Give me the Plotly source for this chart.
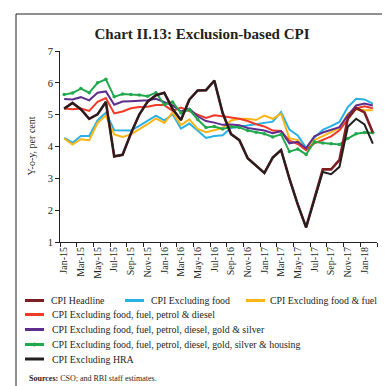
import plotly.graph_objects as go

months = ["Jan-15","Feb-15","Mar-15","Apr-15","May-15","Jun-15","Jul-15","Aug-15","Sep-15","Oct-15","Nov-15","Dec-15",
          "Jan-16","Feb-16","Mar-16","Apr-16","May-16","Jun-16","Jul-16","Aug-16","Sep-16","Oct-16","Nov-16","Dec-16",
          "Jan-17","Feb-17","Mar-17","Apr-17","May-17","Jun-17","Jul-17","Aug-17","Sep-17","Oct-17","Nov-17","Dec-17",
          "Jan-18","Feb-18"]

headline = [5.19,5.37,5.17,4.87,5.01,5.40,3.69,3.74,4.41,5.00,5.41,5.61,5.69,5.18,4.83,5.47,5.76,5.77,6.07,5.05,4.39,4.20,3.63,3.41,
            3.17,3.65,3.89,2.99,2.18,1.46,2.36,3.28,3.28,3.58,4.88,5.21,5.07,4.44]
ex_food = [4.27,4.12,4.33,4.33,4.82,5.06,4.51,4.51,4.50,4.65,4.80,4.97,4.82,5.01,4.56,4.72,4.50,4.27,4.33,4.35,4.58,4.62,4.65,4.70,
           4.73,4.78,5.08,4.53,4.35,3.96,4.28,4.52,4.64,4.77,5.24,5.50,5.48,5.35]
ex_food_fuel = [4.25,4.06,4.23,4.20,4.74,4.97,4.38,4.30,4.38,4.53,4.70,4.88,4.74,5.07,4.67,4.85,4.55,4.45,4.52,4.58,4.82,4.87,4.87,4.83,
                4.97,4.87,5.03,4.26,4.20,3.90,4.20,4.33,4.46,4.58,5.03,5.17,5.14,5.14]
ex_petrol_diesel = [5.19,5.17,5.19,5.12,5.40,5.52,5.04,5.10,5.20,5.24,5.25,5.30,5.30,5.12,5.22,5.10,5.00,4.90,4.98,4.95,4.91,4.87,4.80,4.70,
                    4.63,4.50,4.49,4.18,4.08,3.88,4.10,4.20,4.32,4.51,4.87,5.20,5.26,5.20]
ex_gold_silver = [5.49,5.48,5.55,5.45,5.69,5.73,5.31,5.41,5.42,5.44,5.45,5.50,5.40,5.29,5.10,5.19,4.95,4.80,4.75,4.68,4.69,4.67,4.58,4.54,
                  4.50,4.42,4.48,4.10,4.15,3.94,4.32,4.44,4.52,4.61,4.98,5.29,5.35,5.29]
ex_housing = [5.63,5.68,5.82,5.69,6.00,6.11,5.56,5.65,5.63,5.62,5.58,5.69,5.32,5.40,5.05,5.16,4.85,4.60,4.63,4.55,4.62,4.60,4.50,4.45,
              4.40,4.30,4.38,3.84,3.92,3.75,4.15,4.11,4.09,4.06,4.25,4.40,4.44,4.43]
ex_hra = [5.19,5.37,5.17,4.87,5.01,5.40,3.69,3.74,4.41,5.00,5.41,5.61,5.69,5.18,4.83,5.47,5.76,5.77,6.07,5.05,4.39,4.20,3.63,3.41,
          3.17,3.65,3.89,2.99,2.18,1.46,2.32,3.20,3.13,3.36,4.62,4.87,4.69,4.09]

names = ["CPI Headline", "CPI Excluding food", "CPI Excluding food & fuel",
         "CPI Excluding food, fuel, petrol & diesel",
         "CPI Excluding food, fuel, petrol, diesel, gold & silver",
         "CPI Excluding food, fuel, petrol, diesel, gold, silver & housing",
         "CPI Excluding HRA"]
colors = ["#7d1f22", "#27b1e6", "#fdb515", "#ee3a26", "#5d2e8e", "#21a84d", "#231f20"]
series = [headline, ex_food, ex_food_fuel, ex_petrol_diesel, ex_gold_silver, ex_housing, ex_hra]

FONT = "Liberation Serif"
W, H = 390, 386
L, R, T, B = 52, 369, 43, 234

def px(x):
    return (x - L) / (R - L)

def py(y):
    return (B - y) / (B - T)

fig = go.Figure()
draw_order = [1, 2, 3, 4, 5, 0, 6]
for i in draw_order:
    fig.add_trace(go.Scatter(
        x=months, y=series[i], mode="lines+markers" if i == 5 else "lines",
        line=dict(color=colors[i], width=2.6 if i == 0 else 2),
        marker=dict(size=3.5, color=colors[i]) if i == 5 else None,
        name=names[i], showlegend=False))

shapes = []
annotations = []
# border
shapes.append(dict(type="rect", xref="paper", yref="paper", x0=px(8), x1=px(382), y0=py(6), y1=py(380),
                   line=dict(color="#231f20", width=1)))

legend_items = [(0, 17, 292.5, 41), (1, 117, 292.5, 141), (2, 238, 292.5, 260),
                (3, 17, 306.5, 42), (4, 17, 321.5, 42), (5, 17, 336.5, 42), (6, 17, 351, 42)]
for idx, x0, y0, tx in legend_items:
    shapes.append(dict(type="line", xref="paper", yref="paper", x0=px(x0), x1=px(x0 + 19), y0=py(y0), y1=py(y0),
                       line=dict(color=colors[idx], width=3)))
    if idx == 5:
        shapes.append(dict(type="circle", xref="paper", yref="paper", x0=px(x0 + 7.5), x1=px(x0 + 11.5),
                           y0=py(y0 + 2), y1=py(y0 - 2), fillcolor=colors[idx], line=dict(color=colors[idx], width=0)))
    annotations.append(dict(text=names[idx], xref="paper", yref="paper", x=px(tx), y=py(y0),
                            xanchor="left", yanchor="middle", showarrow=False,
                            font=dict(family=FONT, size=9.9, color="#231f20")))

annotations.append(dict(text="<b>Sources:</b> CSO; and RBI staff estimates.", xref="paper", yref="paper",
                        x=px(19), y=py(370), xanchor="left", yanchor="middle", showarrow=False,
                        font=dict(family=FONT, size=8, color="#231f20")))
annotations.append(dict(text="Y-o-y, per cent", xref="paper", yref="paper", x=px(23), y=0.5,
                        xanchor="center", yanchor="middle", textangle=-90, showarrow=False,
                        font=dict(family=FONT, size=10, color="#231f20")))

fig.update_layout(
    width=W, height=H,
    margin=dict(l=L, r=W - R, t=T, b=H - B, pad=0),
    paper_bgcolor="white", plot_bgcolor="white",
    title=dict(text="<b>Chart II.13: Exclusion-based CPI</b>", x=194 / W, xanchor="center",
               y=1 - 26 / H, yanchor="middle", font=dict(family=FONT, size=15, color="#231f20")),
    shapes=shapes, annotations=annotations,
    font=dict(family=FONT, color="#231f20"),
)
fig.update_xaxes(type="category", range=[-0.5, 37.5], tickson="boundaries", dtick=2, tickangle=-90,
                 ticks="outside", ticklen=4, tickcolor="#231f20", showline=True, linecolor="#231f20",
                 linewidth=1, showgrid=False, zeroline=False, tickfont=dict(family=FONT, size=10, color="#231f20"))
fig.update_yaxes(range=[1, 7], dtick=1, ticks="outside", ticklen=4, tickcolor="#231f20", showline=True,
                 linecolor="#231f20", linewidth=1, showgrid=False, zeroline=False,
                 tickfont=dict(family=FONT, size=10.5, color="#231f20"))

fig.write_html("out.html")
